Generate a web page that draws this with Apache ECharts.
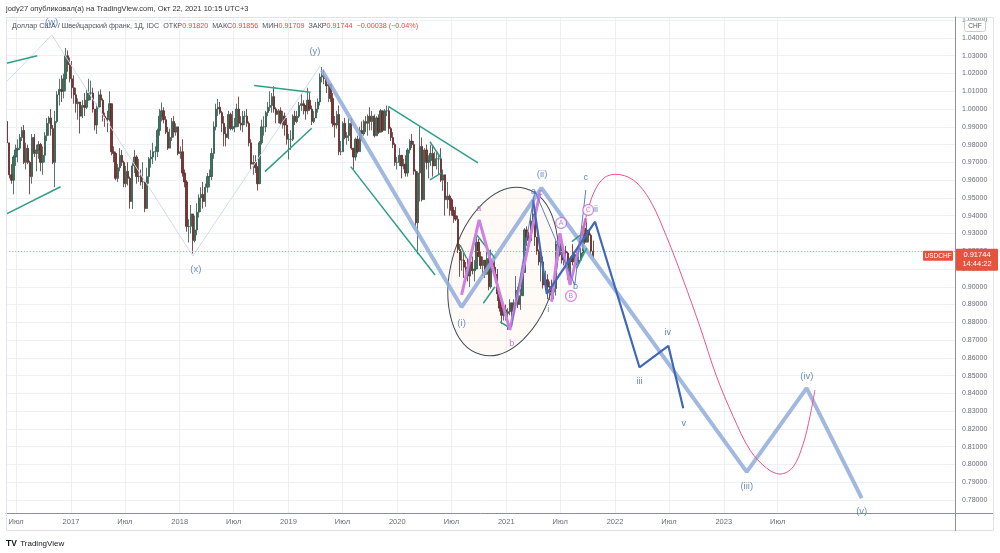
<!DOCTYPE html>
<html><head><meta charset="utf-8">
<script src="https://cdn.jsdelivr.net/npm/echarts@6/dist/echarts.min.js"></script>
<style>html,body{margin:0;padding:0;background:#fff}#c{width:1000px;height:553px}</style>
</head><body><div id="c"></div>
<script>
const FONT = '"Liberation Sans", Arial, sans-serif';
const DAY = 86400000;
const T = s => new Date(s + 'T00:00:00Z').getTime();

// ---------- weekly USD/CHF candles (week mid-points) ----------
const firstWeek = '2016-05-25';
const firstOpen = 0.9930;
const weekClose = [
 0.9930,0.9810,0.9630,0.9600,0.9730,0.9770,0.9780,0.9840,0.9880,0.9700,0.9780,0.9700,0.9620,0.9840,0.9750,0.9770,0.9800,0.9700,0.9740,0.9850,0.9920,0.9950,0.9890,0.9700,0.9930,1.0080,1.0110,1.0100,1.0170,1.0300,1.0250,1.0170,
 1.0120,1.0080,1.0030,1.0040,0.9960, 1.0020,1.0010,1.0050,1.0090, 1.0090,1.0000,0.9910,1.0010, 1.0080,1.0050,0.9960,0.9950, 0.9940,1.0030,0.9760,0.9750,0.9610, 0.9670,0.9740,0.9700,0.9580, 0.9650,0.9610,0.9480,0.9680,0.9730, 0.9620,0.9620,0.9590,0.9590, 0.9440,0.9620,0.9720,0.9730, 0.9760,0.9760,0.9880,0.9960,0.9990, 0.9940,0.9870,0.9780,0.9840, 0.9930,0.9870,0.9900,0.9750,
 0.9760,0.9640,0.9590,0.9340,0.9340, 0.9410,0.9260,0.9320,0.9420, 0.9500,0.9520,0.9480,0.9560, 0.9620,0.9620,0.9750,0.9900,1.0000, 1.0010,0.9980,0.9920,0.9860, 0.9840,0.9970,0.9890,0.9900, 0.9900,1.0000,0.9920,0.9910,0.9960, 0.9960,0.9920,0.9810,0.9690, 0.9700,0.9670,0.9580,0.9810, 0.9900,0.9900,0.9980,1.0010,1.0020, 1.0070,1.0000,0.9970,0.9990, 0.9920,0.9960,0.9910,0.9830,0.9830,
 0.9830,0.9960,0.9930,0.9960, 1.0020,1.0030,1.0020,0.9990, 1.0050,1.0000,0.9930,0.9950, 1.0000,1.0040,1.0180,1.0190,1.0170, 1.0130,1.0140,1.0060,0.9920, 0.9910,0.9970,0.9760,0.9760, 0.9920,0.9840,0.9850,0.9920,0.9780, 0.9730,0.9830,0.9760,0.9880, 0.9860,0.9930,0.9920,0.9960,0.9930, 0.9960,0.9850,0.9950,0.9870, 0.9990,0.9880,0.9990,0.9990, 0.9890,0.9840,0.9800,0.9700,0.9700,
 0.9740,0.9680,0.9690,0.9640, 0.9770,0.9820,0.9800,0.9650, 0.9360,0.9640,0.9790,0.9490,0.9770, 0.9700,0.9710,0.9750,0.9680, 0.9720,0.9720,0.9720,0.9600, 0.9630,0.9490,0.9510,0.9490,0.9430, 0.9400,0.9380,0.9210,0.9150, 0.9150,0.9110,0.9100,0.9060,0.9140, 0.9090,0.9100,0.9250,0.9170, 0.9120,0.9150,0.9070,0.9160, 0.9000,0.9140,0.9110,0.9070,0.8960, 0.8880,0.8840,0.8870,0.8850,
 0.8860,0.8910,0.8860,0.8910, 0.8980,0.8900,0.8950,0.9080, 0.9320,0.9280,0.9260,0.9370,0.9410, 0.9280,0.9200,0.9140,0.9140, 0.9010,0.9040,0.9000,0.9000,0.8970, 0.8990,0.9240,0.9180,0.9250, 0.9150,0.9200,0.9190,0.9060, 0.9160,0.9140,0.9180,0.9140,0.9150, 0.9190,0.9330,0.9250,0.9320, 0.9290,0.9200,0.91744
];
const weekHigh = [
 0.9955,0.9950,0.9810,0.9690,0.9740,0.9800,0.9830,0.9860,0.9900,0.9910,0.9810,0.9800,0.9710,0.9860,0.9860,0.9800,0.9820,0.9810,0.9790,0.9870,0.9950,0.9960,1.0000,0.9910,0.9990,1.0100,1.0170,1.0190,1.0200,1.0344,1.0330,1.0290,
 1.0270,1.0190,1.0120,1.0060,1.0040, 1.0050,1.0090,1.0110,1.0170, 1.0160,1.0120,1.0000,1.0030, 1.0100,1.0110,1.0060,0.9980, 0.9990,1.0100,1.0020,0.9790,0.9760, 0.9690,0.9780,0.9770,0.9710, 0.9680,0.9700,0.9620,0.9700,0.9770, 0.9740,0.9720,0.9660,0.9700, 0.9590,0.9670,0.9730,0.9770, 0.9810,0.9790,0.9890,1.0000,1.0037, 1.0010,0.9960,0.9900,0.9890, 0.9950,0.9960,0.9920,0.9900,
 0.9790,0.9830,0.9660,0.9600,0.9380, 0.9460,0.9400,0.9400,0.9470, 0.9520,0.9560,0.9590,0.9580, 0.9640,0.9660,0.9780,0.9930,1.0030, 1.0056,1.0040,0.9990,0.9960, 0.9900,0.9990,0.9980,0.9990, 0.9950,1.0030,1.0070,0.9960,0.9990, 0.9990,1.0000,0.9930,0.9830, 0.9740,0.9740,0.9680,0.9820, 0.9940,0.9960,0.9990,1.0040,1.0100, 1.0090,1.0128,1.0010,1.0000, 1.0010,0.9990,0.9980,0.9950,0.9860,
 0.9880,0.9970,0.9990,0.9990, 1.0040,1.0090,1.0050,1.0020, 1.0120,1.0090,1.0020,0.9990, 1.0040,1.0060,1.0200,1.0237,1.0220, 1.0180,1.0150,1.0120,1.0090, 0.9960,0.9990,1.0020,0.9820, 0.9930,0.9950,0.9870,0.9950,0.9950, 0.9780,0.9840,0.9850,0.9900, 0.9930,0.9940,0.9960,0.9970,1.0010, 0.9990,0.9970,0.9960,0.9970, 1.0000,0.9990,1.0000,1.0020, 1.0010,0.9900,0.9870,0.9810,0.9730,
 0.9780,0.9740,0.9720,0.9740, 0.9780,0.9830,0.9860,0.9820, 0.9660,0.9650,0.9902,0.9840,0.9780, 0.9800,0.9740,0.9800,0.9790, 0.9760,0.9760,0.9750,0.9780, 0.9660,0.9620,0.9590,0.9520,0.9500, 0.9450,0.9450,0.9400,0.9240, 0.9200,0.9190,0.9140,0.9160,0.9170, 0.9170,0.9150,0.9295,0.9270, 0.9200,0.9170,0.9150,0.9200, 0.9200,0.9210,0.9150,0.9150,0.9100, 0.8940,0.8910,0.8910,0.8900,
 0.8880,0.8930,0.8910,0.8930, 0.9060,0.9000,0.8990,0.9120, 0.9330,0.9340,0.9310,0.9390,0.9473, 0.9420,0.9280,0.9210,0.9170, 0.9170,0.9090,0.9070,0.9030,0.9040, 0.9030,0.9260,0.9250,0.9275, 0.9250,0.9220,0.9230,0.9200, 0.9170,0.9240,0.9200,0.9200,0.9170, 0.9220,0.9340,0.9340,0.9368, 0.9320,0.9300,0.9260
];
const weekLow = [
 0.9880,0.9790,0.9610,0.9580,0.9520,0.9680,0.9700,0.9770,0.9820,0.9690,0.9660,0.9690,0.9520,0.9580,0.9730,0.9650,0.9720,0.9650,0.9630,0.9700,0.9820,0.9850,0.9850,0.9690,0.9560,0.9920,1.0020,1.0040,1.0060,1.0100,1.0210,1.0150,
 1.0060,1.0030,0.9980,0.9940,0.9862, 0.9950,0.9960,1.0000,1.0050, 1.0050,0.9980,0.9880,0.9860, 1.0000,1.0010,0.9930,0.9900, 0.9870,0.9930,0.9740,0.9700,0.9600, 0.9590,0.9650,0.9680,0.9560, 0.9560,0.9570,0.9440,0.9438,0.9640, 0.9580,0.9590,0.9570,0.9550, 0.9420,0.9480,0.9580,0.9670, 0.9690,0.9710,0.9730,0.9850,0.9930, 0.9920,0.9860,0.9770,0.9780, 0.9820,0.9840,0.9850,0.9740,
 0.9720,0.9620,0.9560,0.9310,0.9250, 0.9300,0.9187,0.9250,0.9290, 0.9390,0.9420,0.9440,0.9450, 0.9530,0.9560,0.9600,0.9720,0.9880, 0.9960,0.9970,0.9870,0.9790, 0.9790,0.9830,0.9880,0.9880, 0.9870,0.9910,0.9900,0.9880,0.9870, 0.9910,0.9900,0.9790,0.9660, 0.9630,0.9640,0.9542,0.9580, 0.9800,0.9850,0.9870,0.9960,0.9990, 0.9980,0.9980,0.9920,0.9920, 0.9910,0.9890,0.9850,0.9800,0.9716,
 0.9770,0.9820,0.9910,0.9920, 0.9950,0.9990,0.9970,0.9940, 0.9970,0.9990,0.9910,0.9920, 0.9950,0.9980,1.0020,1.0150,1.0140, 1.0090,1.0040,1.0040,0.9900, 0.9840,0.9890,0.9740,0.9740, 0.9840,0.9830,0.9800,0.9820,0.9770, 0.9660,0.9710,0.9750,0.9780, 0.9820,0.9850,0.9870,0.9850,0.9880, 0.9880,0.9840,0.9860,0.9860, 0.9880,0.9870,0.9880,0.9960, 0.9860,0.9820,0.9780,0.9680,0.9660,
 0.9680,0.9610,0.9660,0.9620, 0.9620,0.9750,0.9780,0.9630, 0.9340,0.9183,0.9480,0.9480,0.9530, 0.9660,0.9610,0.9680,0.9620, 0.9680,0.9660,0.9630,0.9590, 0.9540,0.9400,0.9440,0.9400,0.9400, 0.9360,0.9370,0.9190,0.9056, 0.9090,0.9050,0.9030,0.9030,0.8999, 0.9070,0.9030,0.9120,0.9170, 0.9100,0.9060,0.9050,0.9070, 0.8980,0.8990,0.9100,0.9060,0.8920, 0.8860,0.8790,0.8810,0.8810,
 0.8757,0.8840,0.8830,0.8860, 0.8900,0.8880,0.8870,0.8960, 0.9080,0.9230,0.9220,0.9250,0.9360, 0.9230,0.9180,0.9120,0.9030, 0.8990,0.8990,0.8930,0.8926,0.8950, 0.8930,0.8950,0.9150,0.9170, 0.9130,0.9120,0.9150,0.9040, 0.9018,0.9120,0.9110,0.9120,0.9120, 0.9150,0.9170,0.9240,0.9250, 0.9250,0.9180,0.9160
];
const lastClose = 0.91744;

// ---------- axis ticks ----------
const xTickDates = ['2016-07-01','2017-01-01','2017-07-01','2018-01-01','2018-07-01','2019-01-01','2019-07-01','2020-01-01','2020-07-01','2021-01-01','2021-07-01','2022-01-01','2022-07-01','2023-01-01','2023-07-01'];
const xTickLabels = ['Июл','2017','Июл','2018','Июл','2019','Июл','2020','Июл','2021','Июл','2022','Июл','2023','Июл'];

// ---------- wave drawings ----------
const wxyDates = ['2016-05-30','2016-10-29','2018-02-14','2019-04-17'];
const wxyPrices = [1.0154,1.0417,0.9173,1.0242];
const majorDates = ['2019-04-23','2020-08-04','2021-04-29','2023-03-19','2023-10-06','2024-04-08'];
const majorPrices = [1.0220,0.8886,0.9556,0.7958,0.8430,0.7811];
const minorDates = ['2021-04-01','2021-05-17','2021-10-26','2022-03-24','2022-06-29','2022-08-18'];
const minorPrices = [0.9488,0.8960,0.9366,0.8547,0.8668,0.8316];
const thinBlueDates = ['2021-01-19','2021-04-07','2021-08-19','2021-09-25'];
const thinBluePrices = [0.8775,0.9539,0.9010,0.9545];
const pinkAbcDates = ['2020-08-04','2020-10-02','2021-01-13','2021-04-24'];
const pinkAbcPrices = [0.8954,0.9376,0.8757,0.9526];
const pinkAbc2Dates = ['2021-06-02','2021-06-30','2021-08-03','2021-09-25'];
const pinkAbc2Prices = [0.8916,0.9301,0.9010,0.9385];
const curveDates = ['2021-09-12','2021-10-02','2021-10-26','2021-11-25','2022-01-01','2022-03-03','2022-04-28','2022-06-23','2022-08-18','2022-10-13','2022-12-08','2023-02-02','2023-03-30','2023-05-25','2023-07-09','2023-08-22','2023-09-25','2023-10-17','2023-11-03'];
const curvePrices = [0.9291,0.9432,0.9545,0.9612,0.9633,0.9601,0.9488,0.9282,0.9038,0.8775,0.8494,0.8269,0.8081,0.7979,0.7946,0.7987,0.8119,0.8269,0.8419];
const tealFromDates = ['2016-05-30','2016-05-30','2018-09-08','2018-10-14','2019-12-02','2019-07-29','2020-04-20','2020-04-20','2020-07-30','2020-09-24','2020-10-16','2020-12-11','2021-08-09','2021-08-25'];
const tealFromPrices = [1.0258,0.9410,1.0132,0.9648,1.0015,0.9676,0.9816,0.9601,0.9235,0.9291,0.8907,0.8803,0.9254,0.9104];
const tealToDates = ['2016-09-10','2016-11-27','2019-03-16','2019-03-20','2020-09-28','2020-05-07','2020-05-27','2020-05-27','2020-08-21','2020-11-24','2020-11-24','2021-01-07','2021-09-22','2021-09-28'];
const tealToPrices = [1.0300,0.9563,1.0094,0.9892,0.9697,0.9066,0.9723,0.9639,0.9160,0.9160,0.9000,0.8775,0.9310,0.9217];
const ellipseCenterDate = '2020-12-21';
const ellipseCenterPrice = 0.9086;
const ellipseHalfDays = 175;
const ellipseHalfPrice = 0.0484;
const ellipseTiltDeg = -15;

// ---------- wave labels ----------
const bigLabels = ['(w)','(x)','(y)','(i)','(ii)','(iii)','(iv)','(v)'];
const bigLabelDates = ['2016-10-28','2018-02-24','2019-03-31','2020-08-04','2021-05-01','2023-03-19','2023-10-07','2024-04-08'];
const bigLabelPrices = [1.0488,0.9100,1.0323,0.8794,0.9635,0.7875,0.8494,0.7734];
const smallLabels = ['a','i','b','c','ii','iii','iv','v'];
const smallLabelDates = ['2021-04-02','2021-05-22','2021-08-21','2021-09-25','2021-10-29','2022-03-24','2022-06-27','2022-08-20'];
const smallLabelPrices = [0.9535,0.8873,0.9000,0.9614,0.9432,0.8466,0.8742,0.8233];
const pinkLabels = ['a','b','c'];
const pinkLabelDates = ['2020-10-01','2021-01-19','2021-04-26'];
const pinkLabelPrices = [0.9438,0.8682,0.9529];
const circLabels = ['A','B','C'];
const circLabelDates = ['2021-07-04','2021-08-06','2021-10-03'];
const circLabelPrices = [0.9359,0.8948,0.9432];

// ---------- build ----------
const candles = [];
let prev = firstOpen;
for (let i = 0; i < weekClose.length; i++) {
  const o = prev, c = weekClose[i];
  candles.push([T(firstWeek) + i * 7 * DAY, o, c, Math.min(weekLow[i], o, c), Math.max(weekHigh[i], o, c)]);
  prev = c;
}
const pts = (ds, ps) => ds.map((d, i) => [T(d), ps[i]]);
const lineSeries = (name, ds, ps, color, width, z, extra) => Object.assign({
  name, type: 'line', data: pts(ds, ps), symbol: 'none', z, silent: true,
  lineStyle: { color, width }, animation: false
}, extra || {});
const labelData = (txt, ds, ps) => txt.map((t, i) => ({ name: t, value: [T(ds[i]), ps[i]] }));

const chart = echarts.init(document.getElementById('c'));
chart.setOption({
  animation: false,
  grid: { left: 6, right: 45, top: 17, bottom: 40 },
  xAxis: {
    type: 'time', min: T('2016-05-28'), max: T('2025-02-15'),
    axisLine: { show: true, lineStyle: { color: '#8d9099' } },
    axisTick: { show: false }, axisLabel: { show: false }, splitLine: { show: false }
  },
  yAxis: {
    type: 'value', position: 'right', min: 0.7727, max: 1.0518, splitNumber: 28, scale: true,
    axisLine: { show: true, lineStyle: { color: '#8d9099' } },
    axisTick: { show: false },
    axisLabel: {
      color: '#6a6d78', fontSize: 7, fontFamily: FONT, margin: 7,
      formatter: v => Math.abs(v * 100 - Math.round(v * 100)) < 1e-6 ? v.toFixed(5) : ''
    },
    splitLine: { lineStyle: { color: '#eef0f5' } }
  },
  series: [
    {
      type: 'custom', z: 1, silent: true,
      data: [[T(ellipseCenterDate), ellipseCenterPrice]], encode: { x: 0, y: 1 },
      renderItem: (params, api) => {
        const v = [api.value(0), api.value(1)];
        const c = api.coord(v);
        const s = api.size([ellipseHalfDays * 2 * DAY, ellipseHalfPrice * 2], v);
        return {
          type: 'ellipse', x: c[0], y: c[1], rotation: ellipseTiltDeg * Math.PI / 180,
          shape: { cx: 0, cy: 0, rx: s[0] / 2, ry: s[1] / 2 },
          style: { fill: 'rgba(253,232,214,0.22)', stroke: '#3e4c54', lineWidth: 1 }
        };
      }
    },
    {
      name: 'USDCHF', type: 'candlestick', data: candles, encode: { x: 0, y: [1, 2, 3, 4] },
      barWidth: 1.8, z: 2, silent: true,
      itemStyle: { color: '#3a7761', color0: '#843131', borderColor: '#2b5646', borderColor0: '#5e2424', borderWidth: 0.8 },
      markLine: {
        silent: true, symbol: ['none', 'none'], z: 1, animation: false,
        lineStyle: { color: '#eceff4', width: 1, type: 'solid' },
        label: { show: true, position: 'start', distance: 5, fontSize: 7.5, color: '#6a6d78', fontFamily: FONT },
        emphasis: { disabled: true },
        data: xTickDates.map((d, i) => ({ xAxis: T(d), label: { formatter: xTickLabels[i] } }))
      }
    },
    lineSeries('wxy', wxyDates, wxyPrices, '#d3d9ee', 1, 3, {
      markLine: {
        silent: true, symbol: ['none', 'none'], animation: false,
        lineStyle: { color: '#f19a94', width: 1, type: [1, 2] }, label: { show: false },
        emphasis: { disabled: true },
        data: [{ yAxis: lastClose }]
      }
    }),
    lineSeries('major', majorDates, majorPrices, 'rgba(145,172,218,0.85)', 4, 4),
    {
      type: 'lines', coordinateSystem: 'cartesian2d', z: 5, silent: true,
      lineStyle: { color: '#2f9e86', width: 1.5, opacity: 1 },
      data: tealFromDates.map((d, i) => ({ coords: [[T(d), tealFromPrices[i]], [T(tealToDates[i]), tealToPrices[i]]] }))
    },
    lineSeries('pinkAbc', pinkAbcDates, pinkAbcPrices, '#d27fe2', 3, 6),
    lineSeries('pinkAbc2', pinkAbc2Dates, pinkAbc2Prices, '#d27fe2', 3, 6),
    lineSeries('curve', curveDates, curvePrices, '#f0508a', 1, 6, { smooth: 0.35 }),
    lineSeries('minor', minorDates, minorPrices, '#3f68b8', 2.2, 7),
    lineSeries('thinBlue', thinBlueDates, thinBluePrices, '#5b7fcc', 1, 7),
    {
      type: 'scatter', z: 10, silent: true, symbolSize: 1, itemStyle: { color: 'rgba(0,0,0,0)' },
      label: { show: true, position: 'inside', formatter: '{b}', color: '#4a70b8', fontSize: 9.5, fontFamily: FONT },
      data: labelData(bigLabels, bigLabelDates, bigLabelPrices)
    },
    {
      type: 'scatter', z: 10, silent: true, symbolSize: 1, itemStyle: { color: 'rgba(0,0,0,0)' },
      label: { show: true, position: 'inside', formatter: '{b}', color: '#3d66b5', fontSize: 9, fontFamily: FONT },
      data: labelData(smallLabels, smallLabelDates, smallLabelPrices)
    },
    {
      type: 'scatter', z: 10, silent: true, symbolSize: 1, itemStyle: { color: 'rgba(0,0,0,0)' },
      label: { show: true, position: 'inside', formatter: '{b}', color: '#c25bd4', fontSize: 9, fontFamily: FONT },
      data: labelData(pinkLabels, pinkLabelDates, pinkLabelPrices)
    },
    {
      type: 'scatter', z: 10, silent: true, symbolSize: 1, itemStyle: { color: 'rgba(0,0,0,0)' },
      label: {
        show: true, position: 'inside', formatter: '{b}', color: '#c25bd4', fontSize: 7, fontFamily: FONT,
        borderColor: '#c25bd4', borderWidth: 1, borderRadius: 6, width: 10, height: 10, lineHeight: 10, align: 'center', padding: 0,
        backgroundColor: '#fff'
      },
      data: labelData(circLabels, circLabelDates, circLabelPrices)
    }
  ]
});

const yc = chart.convertToPixel({ yAxisIndex: 0 }, lastClose);
const RED = '#e5533f';
chart.setOption({
  graphic: [
    { type: 'rect', shape: { x: 6.5, y: 17.5, width: 987, height: 513 }, style: { fill: 'none', stroke: '#e0e3eb', lineWidth: 1 }, silent: true, z: 50 },
    { type: 'line', shape: { x1: 955.5, y1: 17, x2: 955.5, y2: 531 }, style: { stroke: '#8d9099', lineWidth: 1 }, silent: true, z: 50 },
    { type: 'line', shape: { x1: 955, y1: 513.5, x2: 993, y2: 513.5 }, style: { stroke: '#8d9099', lineWidth: 1 }, silent: true, z: 50 },
    { type: 'text', x: 6, y: 5, style: { text: 'jody27 опубликовал(а) на TradingView.com, Окт 22, 2021 10:15 UTC+3', fontSize: 7.5, fontFamily: FONT, fill: '#333' }, silent: true, z: 50 },
    { type: 'text', x: 12, y: 23, style: {
        text: '{g|Доллар США / Швейцарский франк, 1Д, IDC  ОТКР}{r|0.91820}{g|  МАКС}{r|0.91856}{g|  МИН}{r|0.91709}{g|  ЗАКР}{r|0.91744}{r|  −0.00038 (−0.04%)}',
        rich: { g: { fontSize: 7.2, fontFamily: FONT, fill: '#50535e' }, r: { fontSize: 7.2, fontFamily: FONT, fill: '#d9503f' } }
      }, silent: true, z: 45 },
    { type: 'rect', shape: { x: 964.5, y: 20.5, width: 21, height: 11, r: 2 }, style: { fill: '#fff', stroke: '#c9ccd4', lineWidth: 1 }, silent: true, z: 60 },
    { type: 'text', x: 975, y: 26, style: { text: 'CHF', fontSize: 6.5, fontFamily: FONT, fill: '#555', align: 'center', verticalAlign: 'middle' }, silent: true, z: 61 },
    { type: 'rect', shape: { x: 956, y: yc - 7, width: 42, height: 22, r: 1 }, style: { fill: RED }, silent: true, z: 60 },
    { type: 'text', x: 977, y: yc - 0.5, style: { text: '0.91744', fontSize: 7.5, fontFamily: FONT, fill: '#fff', align: 'center', verticalAlign: 'middle' }, silent: true, z: 61 },
    { type: 'text', x: 977, y: yc + 8.5, style: { text: '14:44:22', fontSize: 7.5, fontFamily: FONT, fill: '#fff', align: 'center', verticalAlign: 'middle' }, silent: true, z: 61 },
    { type: 'rect', shape: { x: 923, y: yc - 5, width: 30, height: 10, r: 1 }, style: { fill: RED }, silent: true, z: 60 },
    { type: 'text', x: 938, y: yc, style: { text: 'USDCHF', fontSize: 6.5, fontFamily: FONT, fill: '#fff', align: 'center', verticalAlign: 'middle' }, silent: true, z: 61 },
    { type: 'text', x: 6, y: 538, style: { text: '{b|TV} {t|TradingView}', rich: { b: { fontSize: 8.5, fontWeight: 'bold', fontFamily: FONT, fill: '#131722' }, t: { fontSize: 8, fontFamily: FONT, fill: '#131722' } } }, silent: true, z: 50 }
  ]
});
</script>
</body></html>
